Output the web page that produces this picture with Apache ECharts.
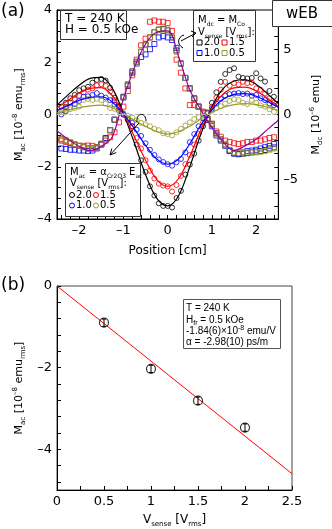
<!DOCTYPE html>
<html><head><meta charset="utf-8">
<script src="https://cdn.jsdelivr.net/npm/echarts@6/dist/echarts.min.js"></script>
<style>html,body{margin:0;padding:0;background:#fff}#c{width:332px;height:529px}</style>
</head><body><div id="c"></div>
<script>
// ---------- panel (a) data ----------
const positionCm = [-2.4,-2.3,-2.2,-2.1,-2.0,-1.9,-1.8,-1.7,-1.6,-1.5,-1.4,-1.3,-1.2,-1.1,-1.0,-0.9,-0.8,-0.7,-0.6,-0.5,-0.4,-0.3,-0.2,-0.1,0,0.1,0.2,0.3,0.4,0.5,0.6,0.7,0.8,0.9,1.0,1.1,1.2,1.3,1.4,1.5,1.6,1.7,1.8,1.9,2.0,2.1,2.2,2.3,2.4];
// M_ac [1e-8 emu_rms] (circles, left axis)
const mac20 = [0.3,0.45,0.62,0.75,0.93,1.0,1.06,1.22,1.32,1.36,1.3,1.02,0.64,0.3,0.03,-0.2,-0.45,-1.15,-1.75,-2.2,-2.75,-3.1,-3.4,-3.5,-3.5,-3.56,-3.2,-2.92,-2.3,-1.92,-1.5,-1.0,-0.45,0.08,0.45,0.85,1.25,1.55,1.7,1.77,1.45,1.4,1.38,1.4,1.58,1.38,1.26,0.9,0.68];
const mac15 = [0.15,0.28,0.45,0.6,0.72,0.85,0.95,1.0,1.12,1.16,1.1,0.88,0.55,0.25,0.0,-0.2,-0.45,-0.9,-1.3,-1.75,-2.15,-2.45,-2.65,-2.72,-2.75,-2.95,-2.7,-2.35,-1.9,-1.55,-1.15,-0.75,-0.3,0.05,0.3,0.65,0.95,1.25,1.1,1.2,1.15,1.25,1.2,1.22,1.0,0.95,0.8,0.62,0.45];
const mac10 = [0.0,0.12,0.28,0.4,0.52,0.68,0.7,0.75,0.82,0.72,0.65,0.55,0.38,0.15,0.0,-0.15,-0.32,-0.58,-0.82,-1.1,-1.35,-1.55,-1.72,-1.82,-1.9,-1.96,-1.83,-1.7,-1.45,-1.06,-0.75,-0.45,-0.15,0.05,0.22,0.42,0.6,0.72,0.78,0.8,0.82,0.78,0.8,0.72,0.75,0.62,0.55,0.42,0.35];
const mac05 = [0.08,0.15,0.2,0.25,0.3,0.55,0.6,0.55,0.6,0.55,0.42,0.25,0.22,0.15,0.05,-0.05,-0.12,-0.22,-0.32,-0.38,-0.45,-0.55,-0.6,-0.72,-0.75,-0.8,-0.68,-0.55,-0.42,-0.3,-0.17,-0.1,0.03,0.05,0.15,0.25,0.32,0.42,0.52,0.58,0.55,0.45,0.4,0.55,0.45,0.35,0.3,0.2,0.1];
// M_dc [1e-6 emu] (squares, right axis)
const mdc20 = [-1.9,-2.0,-2.16,-2.3,-2.4,-2.5,-2.6,-2.6,-2.5,-2.24,-1.84,-1.2,-0.4,0.6,1.36,2.3,3.3,4.04,4.8,5.36,5.9,6.3,6.5,6.56,6.44,5.9,4.9,3.9,2.8,2.0,1.24,0.6,0.2,-0.3,-0.76,-1.44,-1.9,-2.3,-2.76,-2.96,-3.04,-3.0,-2.96,-2.9,-2.84,-2.8,-2.72,-2.6,-2.52];
const mdc15 = [-2.0,-2.1,-2.2,-2.3,-2.4,-2.4,-2.38,-2.4,-2.52,-2.3,-2.0,-1.74,-1.36,-0.6,0.6,1.8,3.0,4.2,5.3,5.8,7.1,7.2,7.1,7.1,7.0,6.4,4.2,3.2,2.0,0.72,0.72,0.6,0.1,-0.4,-0.7,-1.3,-1.7,-2.0,-2.1,-2.2,-2.26,-2.2,-2.1,-2.1,-2.0,-2.0,-1.9,-1.8,-1.74];
const mdc10 = [-2.6,-2.64,-2.7,-2.7,-2.76,-2.76,-2.8,-2.76,-2.6,-2.3,-1.8,-1.2,-0.4,0.6,1.3,2.2,3.2,3.9,4.4,4.6,5.0,5.4,5.9,6.0,5.9,5.7,5.1,3.9,2.8,2.0,1.2,0.6,0.2,-0.4,-0.9,-1.6,-2.0,-2.4,-2.8,-3.0,-3.0,-2.9,-2.8,-2.76,-2.7,-2.6,-2.5,-2.4,-2.26];
const mdc05 = [-1.86,-2.0,-2.1,-2.3,-2.4,-2.5,-2.62,-2.6,-2.52,-2.3,-1.9,-1.2,-0.4,0.55,1.3,2.3,3.3,4.0,4.8,5.3,5.9,6.3,6.5,6.5,6.5,5.9,4.8,3.9,2.8,2.0,1.2,0.6,0.2,-0.3,-0.8,-1.5,-1.9,-2.3,-2.7,-2.9,-2.96,-2.9,-2.9,-2.9,-2.9,-2.85,-2.8,-2.7,-2.6];
// fit curves
const fitPos = [-2.5,-2.25,-2,-1.75,-1.5,-1.25,-1,-0.75,-0.5,-0.25,0,0.25,0.5,0.75,1,1.25,1.5,1.75,2,2.25,2.5];
const fitAc20 = [0.36,0.75,1.12,1.38,1.42,1.0,0.05,-1.1,-2.3,-3.2,-3.5,-3.1,-2.0,-0.75,0.3,0.98,1.28,1.33,1.15,0.8,0.42];
const fitAc15 = [0.25,0.55,0.82,1.0,1.03,0.72,0.03,-0.85,-1.75,-2.48,-2.75,-2.45,-1.6,-0.58,0.25,0.78,1.02,1.05,0.9,0.62,0.3];
const fitAc10 = [0.15,0.35,0.54,0.66,0.68,0.48,0.02,-0.55,-1.18,-1.7,-1.9,-1.7,-1.12,-0.4,0.18,0.58,0.77,0.8,0.7,0.5,0.28];
const fitAc05 = [0.06,0.16,0.26,0.33,0.36,0.26,0.02,-0.22,-0.45,-0.65,-0.75,-0.66,-0.45,-0.17,0.08,0.27,0.38,0.42,0.38,0.28,0.15];
const fitDc = [-1.24,-1.9,-2.44,-2.76,-2.44,-1.7,1.2,3.6,5.4,6.3,6.4,4.4,1.9,0.36,-1.0,-2.1,-2.76,-2.4,-1.9,-1.16,-0.44];
// ticks (a)
const posTicks = [-2.4,-2.2,-2.0,-1.8,-1.6,-1.4,-1.2,-1.0,-0.8,-0.6,-0.4,-0.2,0,0.2,0.4,0.6,0.8,1.0,1.2,1.4,1.6,1.8,2.0,2.2,2.4];
const posLabels = [-2,-1,0,1,2];
const macTicks = [-4,-3.6,-3.2,-2.8,-2.4,-2,-1.6,-1.2,-0.8,-0.4,0,0.4,0.8,1.2,1.6,2,2.4,2.8,3.2,3.6,4];
const macLabels = [-4,-2,0,2,4];
const mdcTicks = [-8,-7,-6,-5,-4,-3,-2,-1,0,1,2,3,4,5,6,7,8];
const mdcLabels = [-5,0,5];
// ---------- panel (b) data ----------
const vSense = [0.5,1.0,1.5,2.0];
const macB = [-0.9,-2.03,-2.81,-3.47];
const errB = [0.09,0.09,0.09,0.09];
const fitVX = [0,2.5];
const fitVY = [0,-4.6];
const vTicks = [0,0.25,0.5,0.75,1,1.25,1.5,1.75,2,2.25,2.5];
const vLabels = [0,0.5,1,1.5,2,2.5];
const bTicks = [0,-0.4,-0.8,-1.2,-1.6,-2,-2.4,-2.8,-3.2,-3.6,-4,-4.4,-4.8];
const bLabels = [0,-2,-4];

const F = 'DejaVu Sans';
const L = 'Liberation Sans';
const C = {k:'#000000', r:'#ff0000', b:'#0000ff', o:'#9c9c28', p:'#990099'};
const fmt = v => (v < 0 ? '\u2013' : '') + Math.abs(v);
function rich(fs, fam, ss){
  const s = ss || Math.round(fs*0.62);
  return {
    m:{fontSize:fs, fontFamily:fam, color:'#000', lineHeight:fs+4, verticalAlign:'middle'},
    s:{fontSize:s, fontFamily:fam, color:'#000', lineHeight:6, verticalAlign:'bottom'},
    u:{fontSize:s, fontFamily:fam, color:'#000', lineHeight:6, verticalAlign:'top'}
  };
}
const zip = (xs, ys) => xs.map((x,i)=>[x, ys[i]]);
const axLine = {show:true, onZero:false, lineStyle:{color:'#000', width:1}};
const lbl = (vals) => ({customValues:vals, formatter:fmt, fontFamily:F, fontSize:13, color:'#000', margin:5});
const tick = (vals) => ({show:true, inside:true, length:4, customValues:vals, lineStyle:{color:'#000'}});

function sc(name, data, color, sym, yi){
  return {type:'scatter', name, data, xAxisIndex:0, yAxisIndex:yi, symbol:sym, symbolSize:5,
    itemStyle:{color:'rgba(0,0,0,0)', borderColor:color, borderWidth:1}, silent:true, z:3};
}
function ln(name, data, color, yi, extra){
  return Object.assign({type:'line', name, data, xAxisIndex:0, yAxisIndex:yi, smooth:0.35, showSymbol:false,
    lineStyle:{color, width:1.2}, silent:true, z:4}, extra||{});
}

const tStyle = (fs, fam) => ({fontSize:fs, fontFamily:fam, fill:'#000', align:'left', verticalAlign:'middle', textAlign:'left', textVerticalAlign:'middle'});
function txt(x, y, text, fs, fam, r){
  const st = Object.assign(tStyle(fs, fam||F), {text});
  if (r) st.rich = r;
  return {type:'text', x, y, style:st, z:10};
}
function box(x, y, w, h, col){
  return {type:'rect', shape:{x, y, width:w, height:h}, style:{fill:'#fff', stroke:col||'#333', lineWidth:1}, z:9};
}
function sq(cx, cy, col){
  return {type:'rect', shape:{x:cx-2.5, y:cy-2.5, width:5, height:5}, style:{fill:'none', stroke:col, lineWidth:1}, z:10};
}
function ci(cx, cy, col){
  return {type:'circle', shape:{cx, cy, r:2.5}, style:{fill:'none', stroke:col, lineWidth:1}, z:10};
}
const R10 = rich(10, F, 6);
const RL = rich(10, L, 7);

const graphics = [
  txt(1, 12, '(a)', 17),
  txt(1, 286, '(b)', 17),
  // T/H box (a)
  box(60.5, 10.5, 66, 29),
  txt(65, 19, 'T = 240 K', 12),
  txt(65, 30, 'H = 0.5 kOe', 12),
  // wEB
  box(272.5, 0.5, 62, 26),
  {type:'text', x:302, y:14, style:{text:'wEB', fontSize:15, fontFamily:F, fill:'#000', align:'center', verticalAlign:'middle', textAlign:'center', textVerticalAlign:'middle'}, z:10},
  // M_dc legend
  box(193.5, 10.5, 62, 51),
  txt(198, 20.5, '{m|M}{s|dc}{m| = M}{s|Co}', 10, F, R10),
  txt(198, 32, '{m|V}{s|sense}{m| [V}{s|rms}{m|]:}', 10, F, R10),
  sq(199.5, 42.5, C.k), txt(204, 42.5, '2.0', 10),
  sq(224.5, 42.5, C.r), txt(229, 42.5, '1.5', 10),
  sq(199.5, 53, C.b), txt(204, 53, '1.0', 10),
  sq(224.5, 53, C.o), txt(229, 53, '0.5', 10),
  // M_ac legend
  box(65.5, 163.5, 75, 53),
  txt(70, 172, '{m|M}{s|ac}{m| = α}{s|Cr2O3}{m| E}{s|ac}', 10, F, R10),
  txt(70, 183.5, '{m|V}{s|sense}{m| [V}{s|rms}{m|]:}', 10, F, R10),
  ci(72, 195, C.k), txt(76, 195, '2.0', 10),
  ci(96, 195, C.r), txt(100, 195, '1.5', 10),
  ci(72, 205.5, C.b), txt(76, 205.5, '1.0', 10),
  ci(96, 205.5, C.o), txt(100, 205.5, '0.5', 10),
  // arrow 1 (M_ac -> left axis)
  {type:'bezierCurve', shape:{x1:137, y1:122, x2:146, y2:121, cpx1:136, cpy1:112, cpx2:146, cpy2:112}, style:{stroke:'#000', lineWidth:1, fill:'none'}, z:10},
  {type:'line', shape:{x1:139, y1:123, x2:110, y2:155}, style:{stroke:'#000', lineWidth:1}, z:10},
  {type:'polyline', shape:{points:[[116.2,152.6],[110,155],[111.8,148.6]]}, style:{stroke:'#000', lineWidth:1, fill:'none'}, z:10},
  // arrow 2 (M_dc -> right axis)
  {type:'bezierCurve', shape:{x1:184, y1:35, x2:183, y2:48, cpx1:177, cpy1:37, cpx2:177, cpy2:45}, style:{stroke:'#000', lineWidth:1, fill:'none'}, z:10},
  {type:'line', shape:{x1:181, y1:41, x2:196, y2:33}, style:{stroke:'#000', lineWidth:1}, z:10},
  {type:'polyline', shape:{points:[[191,31],[196,33],[192,37]]}, style:{stroke:'#000', lineWidth:1, fill:'none'}, z:10},
  // (b) box
  box(183.5, 299.5, 97, 49, '#555'),
  txt(186, 308.5, 'T = 240 K', 10, L),
  txt(186, 320, '{m|H}{s|fr}{m| = 0.5 kOe}', 10, L, RL),
  txt(186, 331.5, '{m|-1.84(6)×10}{u|-8}{m| emu/V}', 10, L, RL),
  txt(186, 342.5, 'α = -2.98(10) ps/m', 10, L)
];

const option = {
  animation:false,
  backgroundColor:'#fff',
  textStyle:{fontFamily:F},
  grid:[
    {left:57, top:10, width:235, height:209, show:true, borderColor:'#000', borderWidth:1, backgroundColor:'transparent'},
    {left:57, top:286, width:235, height:210, show:true, borderColor:'#444', borderWidth:1, backgroundColor:'transparent'}
  ],
  xAxis:[
    {gridIndex:0, type:'value', min:-2.5, max:2.5, axisLine:axLine, axisTick:tick(posTicks), axisLabel:lbl(posLabels), splitLine:{show:false},
     name:'Position [cm]', nameLocation:'middle', nameGap:26, nameTextStyle:{fontFamily:F, fontSize:12, color:'#000'}},
    {gridIndex:1, type:'value', min:0, max:2.5, axisLine:axLine, axisTick:tick(vTicks), axisLabel:lbl(vLabels), splitLine:{show:false},
     name:'{m|V}{s|sense}{m| [V}{s|rms}{m|]}', nameLocation:'middle', nameGap:22, nameTextStyle:{rich:rich(12,F)}}
  ],
  yAxis:[
    {gridIndex:0, type:'value', min:-4, max:4, axisLine:axLine, axisTick:tick(macTicks), axisLabel:lbl(macLabels), splitLine:{show:false},
     name:'{m|M}{s|ac}{m| [10}{u|\u20138}{m| emu}{s|rms}{m|]}', nameLocation:'middle', nameGap:26, nameRotate:90, nameTextStyle:{rich:rich(11,F)}},
    {gridIndex:0, type:'value', position:'right', min:-8, max:8, axisLine:axLine, axisTick:tick(mdcTicks), axisLabel:lbl(mdcLabels), splitLine:{show:false},
     name:'{m|M}{s|dc}{m| [10}{u|\u20136}{m| emu]}', nameLocation:'middle', nameGap:24, nameRotate:90, nameTextStyle:{rich:rich(11,F)}},
    {gridIndex:1, type:'value', min:-5, max:0, axisLine:axLine, axisTick:tick(bTicks), axisLabel:lbl(bLabels), splitLine:{show:false},
     name:'{m|M}{s|ac}{m| [10}{u|\u20138}{m| emu}{s|rms}{m|]}', nameLocation:'middle', nameGap:26, nameRotate:90, nameTextStyle:{rich:rich(11,F)}}
  ],
  graphic:{elements:graphics},
  series:[
    ln('fit ac 2.0', zip(fitPos, fitAc20), C.k, 0, {markLine:{silent:true, symbol:'none', label:{show:false},
        lineStyle:{type:'dashed', color:'#b0b0b0', width:1}, data:[{yAxis:0}]}}),
    ln('fit ac 1.5', zip(fitPos, fitAc15), C.r, 0),
    ln('fit ac 1.0', zip(fitPos, fitAc10), C.b, 0),
    ln('fit ac 0.5', zip(fitPos, fitAc05), C.o, 0),
    ln('fit dc', zip(fitPos, fitDc), C.p, 1),
    sc('dc 2.0', zip(positionCm, mdc20), C.k, 'rect', 1),
    sc('dc 1.5', zip(positionCm, mdc15), C.r, 'rect', 1),
    sc('dc 1.0', zip(positionCm, mdc10), C.b, 'rect', 1),
    sc('dc 0.5', zip(positionCm, mdc05), C.o, 'rect', 1),
    sc('ac 2.0', zip(positionCm, mac20), C.k, 'circle', 0),
    sc('ac 1.5', zip(positionCm, mac15), C.r, 'circle', 0),
    sc('ac 1.0', zip(positionCm, mac10), C.b, 'circle', 0),
    sc('ac 0.5', zip(positionCm, mac05), C.o, 'circle', 0),
    {type:'line', name:'fit b', xAxisIndex:1, yAxisIndex:2, data:zip(fitVX, fitVY), showSymbol:false, lineStyle:{color:'#ff0000', width:1}, silent:true},
    {type:'custom', name:'err b', xAxisIndex:1, yAxisIndex:2, data:vSense.map((v,i)=>[v, macB[i], errB[i]]), silent:true, z:5,
     renderItem:function(params, api){
       const x = api.value(0), y = api.value(1), e = api.value(2);
       const t = api.coord([x, y+e]), b = api.coord([x, y-e]);
       const st = {stroke:'#000', lineWidth:1};
       return {type:'group', children:[
         {type:'line', shape:{x1:t[0], y1:t[1], x2:b[0], y2:b[1]}, style:st},
         {type:'line', shape:{x1:t[0]-2, y1:t[1], x2:t[0]+2, y2:t[1]}, style:st},
         {type:'line', shape:{x1:b[0]-2, y1:b[1], x2:b[0]+2, y2:b[1]}, style:st}
       ]};
     }},
    {type:'scatter', name:'M_ac b', xAxisIndex:1, yAxisIndex:2, data:zip(vSense, macB), symbol:'circle', symbolSize:9,
     itemStyle:{color:'rgba(0,0,0,0)', borderColor:'#000', borderWidth:1.2}, silent:true, z:6}
  ]
};
const chart = echarts.init(document.getElementById('c'));
chart.setOption(option);
</script></body></html>
